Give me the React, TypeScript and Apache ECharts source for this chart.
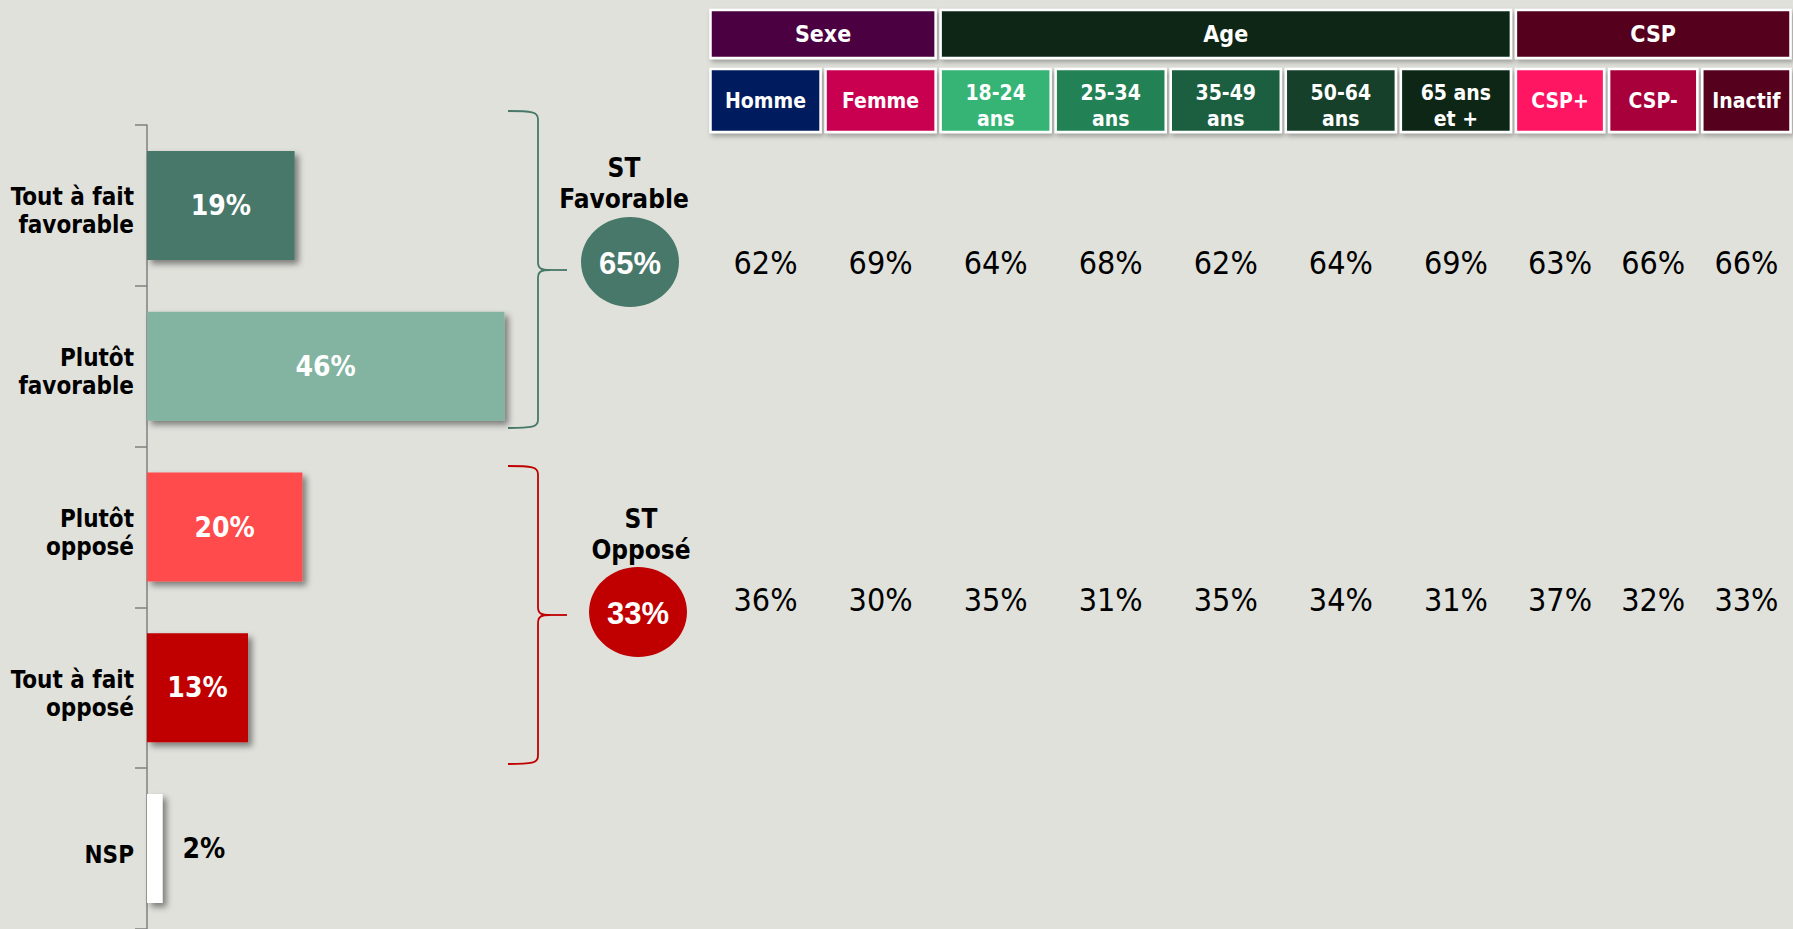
import React, { useEffect, useRef } from "react";
import * as echarts from "echarts";

// ---- Data ----
const CATEGORIES = ["Tout à fait\nfavorable", "Plutôt\nfavorable", "Plutôt\nopposé", "Tout à fait\nopposé", "NSP"];
const VALUES = [19, 46, 20, 13, 2];
const BAR_COLORS = ["#47786A", "#82B4A1", "#FF4B4B", "#C00000", "#FFFFFF"];

const ST_LABELS = ["ST\nFavorable", "ST\nOpposé"];
const ST_VALUES = [65, 33];
const ST_COLORS = ["#47786A", "#C00000"];

const GROUPS = ["Sexe", "Age", "CSP"];
const GROUP_SIZES = [2, 5, 3];
const GROUP_COLORS = ["#4B0042", "#0B2819", "#54001D"];

const SUBGROUPS = ["Homme", "Femme", "18-24\nans", "25-34\nans", "35-49\nans", "50-64\nans", "65 ans\net +", "CSP+", "CSP-", "Inactif"];
const SUB_COLORS = ["#001F5F", "#C8004F", "#35B476", "#238155", "#1D5E40", "#143F2C", "#0B2819", "#FF1463", "#A8003A", "#54001D"];

const FAV_BY_GROUP = [62, 69, 64, 68, 62, 64, 69, 63, 66, 66];
const OPP_BY_GROUP = [36, 30, 35, 31, 35, 34, 31, 37, 32, 33];

// ---- Layout (not data) ----
const COL_SPANS = [1, 1, 1, 1, 1, 1, 1, 0.81, 0.81, 0.81];
const ROW1 = [10, 58];
const ROW2 = [69, 132];
const VALUE_ROW_Y = [263, 600];
const BRACES = [
  { top: 111, bottom: 428, mid: 270 },
  { top: 466, bottom: 764, mid: 615 },
];
const BRACE_X = { left: 508, vert: 538, tip: 567 };
const CIRCLES = [
  { cx: 630, cy: 262, textY: 183, textX: 624 },
  { cx: 638, cy: 612, textY: 534, textX: 641 },
];

const FONT = "'DejaVu Sans Condensed', 'DejaVu Sans', sans-serif";
const BG = "#E0E1DB";

function starts(spans: number[]) {
  let acc = 0;
  return spans.map((s) => {
    const st = acc;
    acc += s;
    return st;
  });
}

function braceElements(b: { top: number; bottom: number; mid: number }, color: string) {
  const { left, vert, tip } = BRACE_X;
  const style = { stroke: color, lineWidth: 1.8, fill: "none" };
  return [
    { type: "bezierCurve", shape: { x1: left, y1: b.top, cpx1: vert - 6, cpy1: b.top, cpx2: vert, cpy2: b.top + 1, x2: vert, y2: b.top + 8 }, style },
    { type: "line", shape: { x1: vert, y1: b.top + 8, x2: vert, y2: b.mid - 8 }, style },
    { type: "bezierCurve", shape: { x1: vert, y1: b.mid - 8, cpx1: vert, cpy1: b.mid - 1, cpx2: vert + 4, cpy2: b.mid, x2: vert + 12, y2: b.mid }, style },
    { type: "line", shape: { x1: vert + 12, y1: b.mid, x2: tip, y2: b.mid }, style },
    { type: "bezierCurve", shape: { x1: vert + 12, y1: b.mid, cpx1: vert + 4, cpy1: b.mid, cpx2: vert, cpy2: b.mid + 1, x2: vert, y2: b.mid + 8 }, style },
    { type: "line", shape: { x1: vert, y1: b.mid + 8, x2: vert, y2: b.bottom - 8 }, style },
    { type: "bezierCurve", shape: { x1: vert, y1: b.bottom - 8, cpx1: vert, cpy1: b.bottom - 1, cpx2: vert - 6, cpy2: b.bottom, x2: left, y2: b.bottom }, style },
  ];
}

export default function App() {
  const ref = useRef<HTMLDivElement>(null);

  useEffect(() => {
    document.body.style.margin = "0";
    const chart = echarts.init(ref.current as HTMLDivElement, null, { renderer: "svg" });

    const colStart = starts(COL_SPANS);
    const total = COL_SPANS.reduce((a, b) => a + b, 0);

    const subData = SUBGROUPS.map((_, i) => [colStart[i], colStart[i] + COL_SPANS[i], ROW2[0], ROW2[1], i]);
    let gi = 0;
    const groupData = GROUPS.map((_, g) => {
      const a = gi;
      gi += GROUP_SIZES[g];
      const b = gi;
      return [colStart[a], b < COL_SPANS.length ? colStart[b] : total, ROW1[0], ROW1[1], g];
    });
    const valueData: number[][] = [];
    FAV_BY_GROUP.forEach((v, i) => valueData.push([colStart[i] + COL_SPANS[i] / 2, VALUE_ROW_Y[0], v]));
    OPP_BY_GROUP.forEach((v, i) => valueData.push([colStart[i] + COL_SPANS[i] / 2, VALUE_ROW_Y[1], v]));

    const cellRenderer = (labels: string[], colors: string[], fontSize: number) => (params: any, api: any) => {
      const i = api.value(4);
      const p0 = api.coord([api.value(0), api.value(2)]);
      const p1 = api.coord([api.value(1), api.value(3)]);
      const inset = 2.5;
      const x = p0[0] + inset;
      const w = p1[0] - p0[0] - 2 * inset;
      const y = p0[1];
      const h = p1[1] - p0[1];
      const label = labels[i];
      const multi = label.indexOf("\n") >= 0;
      return {
        type: "group",
        children: [
          {
            type: "rect",
            shape: { x, y, width: w, height: h },
            style: {
              fill: colors[i],
              stroke: "#FFFFFF",
              lineWidth: 2.5,
              shadowBlur: 5,
              shadowColor: "rgba(0,0,0,0.3)",
              shadowOffsetX: 2,
              shadowOffsetY: 3,
            },
          },
          {
            type: "text",
            x: x + w / 2,
            y: y + h / 2 + (multi ? 5 : 0),
            style: {
              text: label,
              fill: "#FFFFFF",
              fontSize,
              fontWeight: "bold",
              fontFamily: FONT,
              align: "center",
              verticalAlign: "middle",
              lineHeight: 26,
            },
          },
        ],
      };
    };

    const graphic: any[] = [];
    BRACES.forEach((b, i) => graphic.push(...braceElements(b, ST_COLORS[i])));
    CIRCLES.forEach((c, i) => {
      graphic.push({
        type: "ellipse",
        shape: { cx: c.cx, cy: c.cy, rx: 49, ry: 45 },
        style: { fill: ST_COLORS[i] },
      });
      graphic.push({
        type: "text",
        x: c.cx,
        y: c.cy + 1,
        style: {
          text: ST_VALUES[i] + "%",
          fill: "#FFFFFF",
          fontSize: 31,
          fontWeight: "bold",
          fontFamily: "'Liberation Sans', Arial, sans-serif",
          align: "center",
          verticalAlign: "middle",
        },
      });
      graphic.push({
        type: "text",
        x: c.textX,
        y: c.textY,
        style: {
          text: ST_LABELS[i],
          fill: "#000000",
          fontSize: 26,
          fontWeight: "bold",
          fontFamily: FONT,
          align: "center",
          verticalAlign: "middle",
          lineHeight: 31,
        },
      });
    });

    chart.setOption({
      animation: false,
      backgroundColor: BG,
      grid: [
        { left: 147, top: 125, width: 777, height: 804 },
        { left: 708, top: 0, width: 1090, height: 929 },
      ],
      xAxis: [
        { type: "value", gridIndex: 0, min: 0, max: 100, show: false },
        { type: "value", gridIndex: 1, min: 0, max: total, show: false },
      ],
      yAxis: [
        {
          type: "category",
          gridIndex: 0,
          data: CATEGORIES,
          inverse: true,
          axisLine: { lineStyle: { color: "#808080", width: 1.5 } },
          axisTick: { show: true, length: 12, lineStyle: { color: "#808080", width: 1.5 } },
          axisLabel: {
            color: "#000000",
            fontSize: 24,
            fontWeight: "bold",
            fontFamily: FONT,
            lineHeight: 28,
            margin: 13,
            formatter: (v: string) =>
              "{s|}\n" + v.split("\n").map((l) => "{t|" + l + "}").join("\n"),
            rich: {
              s: { lineHeight: 12, fontSize: 1 },
              t: {
                color: "#000000",
                fontSize: 24,
                fontWeight: "bold",
                fontFamily: FONT,
                lineHeight: 28,
                align: "right",
              },
            },
          },
          splitLine: { show: false },
        },
        { type: "value", gridIndex: 1, min: 0, max: 929, inverse: true, show: false },
      ],
      series: [
        {
          type: "bar",
          xAxisIndex: 0,
          yAxisIndex: 0,
          barWidth: 109,
          data: VALUES.map((v, i) => ({
            value: v,
            itemStyle: { color: BAR_COLORS[i] },
            label: i === VALUES.length - 1 ? { position: "right", color: "#000000", distance: 20 } : undefined,
          })),
          itemStyle: {
            shadowBlur: 6,
            shadowColor: "rgba(0,0,0,0.45)",
            shadowOffsetX: 4,
            shadowOffsetY: 4,
          },
          label: {
            show: true,
            position: "inside",
            formatter: "{c}%",
            color: "#FFFFFF",
            fontSize: 28,
            fontWeight: "bold",
            fontFamily: FONT,
          },
        },
        {
          type: "custom",
          xAxisIndex: 1,
          yAxisIndex: 1,
          data: groupData,
          renderItem: cellRenderer(GROUPS, GROUP_COLORS, 23),
        },
        {
          type: "custom",
          xAxisIndex: 1,
          yAxisIndex: 1,
          data: subData,
          renderItem: cellRenderer(SUBGROUPS, SUB_COLORS, 21),
        },
        {
          type: "custom",
          xAxisIndex: 1,
          yAxisIndex: 1,
          data: valueData,
          renderItem: (params: any, api: any) => {
            const p = api.coord([api.value(0), api.value(1)]);
            return {
              type: "text",
              x: p[0],
              y: p[1],
              style: {
                text: api.value(2) + "%",
                fill: "#000000",
                fontSize: 32,
                fontFamily: FONT,
                align: "center",
                verticalAlign: "middle",
              },
            };
          },
        },
      ],
      graphic,
    });

    return () => {
      chart.dispose();
    };
  }, []);

  return <div ref={ref} style={{ width: 1793, height: 929 }} />;
}
